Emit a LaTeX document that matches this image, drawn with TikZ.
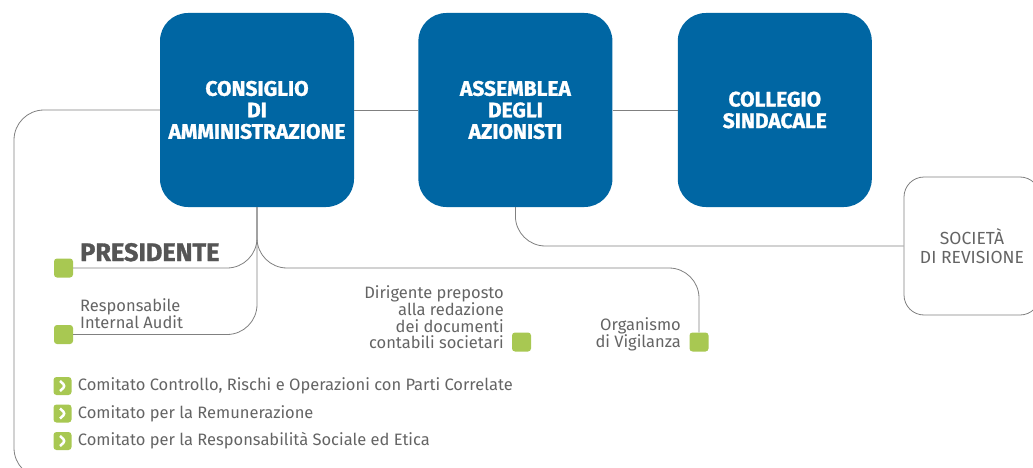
\documentclass[tikz,border=0pt]{standalone}
\usepackage{fontspec}
\setmainfont{Fira Sans}[BoldFont={* Bold}]
\newfontfamily\heavyfont{Fira Sans}[UprightFont={* Bold}, FakeBold=1.2]
\usetikzlibrary{positioning}
\definecolor{boardblue}{RGB}{0,102,163}
\definecolor{leafgreen}{RGB}{168,200,82}
\definecolor{linegray}{RGB}{128,128,128}
\definecolor{textgray}{RGB}{100,100,100}
\tikzset{
    x=1pt, y=-1pt, % pixel-like units, y grows downwards
    board/.style={fill=boardblue, rounded corners=28pt, minimum width=194pt, minimum height=194pt, text=white, align=center, font=\heavyfont\fontsize{21}{21.5}\selectfont}, % the three blue boxes
    firm/.style={draw=linegray, line width=0.8pt, rounded corners=20pt, minimum width=136pt, minimum height=138pt, text=textgray, align=center, font=\fontsize{17.5}{19.5}\selectfont}, % outlined box on the right
    link/.style={draw=linegray, line width=0.8pt, rounded corners=30pt}, % connectors
    leaf/.style={fill=leafgreen, rounded corners=3pt, minimum size=19pt, inner sep=0pt}, % green squares
    chevron/.style={leaf, minimum size=18pt, path picture={\draw[white, line width=2.5pt] ([xshift=-2.5pt,yshift=5pt]path picture bounding box.center) -- ++(5.5pt,-5pt) -- ++(-5.5pt,-5pt);}}, % green bullet with arrow
    note/.style={text=textgray, inner sep=0pt, font=\fontsize{16.5}{16.7}\selectfont}, % gray texts
}

\begin{document}
\begin{tikzpicture}
    \useasboundingbox (0,0) rectangle (1033,468);
    % governing bodies
    \node[board] (cda) at (257,110) {CONSIGLIO\\DI\\AMMINISTRAZIONE};
    \node[board, right=64pt of cda] (ada) {ASSEMBLEA\\DEGLI\\AZIONISTI};
    \node[board, right=65pt of ada] (cs) {COLLEGIO\\SINDACALE};
    \node[firm] (soc) at (972,246) {SOCIETÀ\\DI REVISIONE};
    % green squares
    \node[leaf] (presq) at (63.5,268) {};
    \node[leaf] (riaq) at (63.5,334.5) {};
    \node[leaf] (dirq) at (521.5,342) {};
    \node[leaf] (odvq) at (699,342) {};
    \node[text=textgray!85!black, inner sep=0pt, anchor=base west, font=\heavyfont\fontsize{25.3}{25}\selectfont] (pres) at (80,261) {PRESIDENTE};
    \node[note, anchor=west, align=left] (ria) at (80,313.5) {Responsabile\\Internal Audit};
    \node[note, anchor=east, align=right] (dir) at (504,317.5) {Dirigente preposto\\alla redazione\\dei documenti\\contabili societari};
    \node[note, anchor=east, align=right] (odv) at (681,334) {Organismo\\di Vigilanza};
    % committees
    \node[chevron] (b1) at (62.5,386) {};
    \node[chevron] (b2) at (62.5,413.5) {};
    \node[chevron] (b3) at (62.5,441) {};
    \node[note, right=6pt of b1] (c1) {Comitato Controllo, Rischi e Operazioni con Parti Correlate};
    \node[note, right=6pt of b2] (c2) {Comitato per la Remunerazione};
    \node[note, right=6pt of b3] (c3) {Comitato per la Responsabilità Sociale ed Etica};
    % connectors
    \coordinate (corner) at (14,478);
    \coordinate (odvturn) at (odvq.north |- presq.east);
    \draw[link] (cda.west) -| (corner) -- ++(60,0);
    \draw[link] (cda.east) -- (ada.west);
    \draw[link] (ada.east) -- (cs.west);
    \draw[link] (ada.south) |- (soc.west);
    \draw[link] (cda.south) |- (presq.east);
    \draw[link] (cda.south) |- (riaq.east);
    \draw[link] (cda.south) |- (odvturn) -- (odvq.north);
\end{tikzpicture}
\end{document}
